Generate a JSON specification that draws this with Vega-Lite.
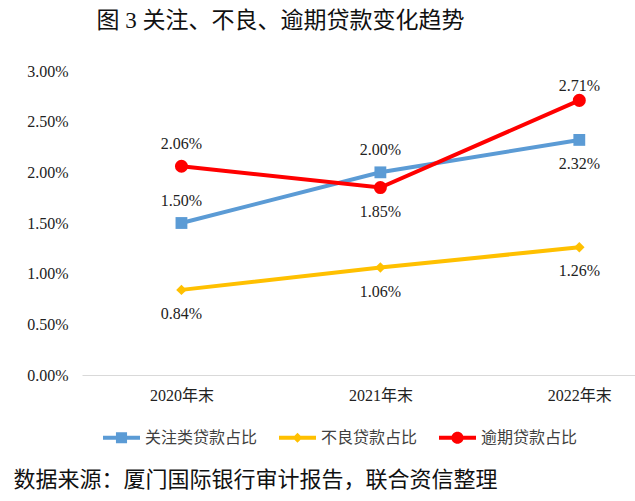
{
  "$schema": "https://vega.github.io/schema/vega-lite/v6.json",
  "autosize": "none",
  "padding": {"left": 82, "top": 71, "right": 0, "bottom": 126},
  "width": 553,
  "height": 304,
  "background": "white",
  "title": {
    "text": "图 3 关注、不良、逾期贷款变化趋势",
    "anchor": "middle",
    "frame": "group",
    "dx": -78,
    "offset": 30,
    "fontSize": 23,
    "font": "Liberation Serif, Noto Sans CJK SC",
    "fontWeight": "normal",
    "color": "#111111"
  },
  "config": {"view": {"stroke": null}},
  "data": {
    "values": [
      {"year": 2020, "s": "关注类贷款占比", "v": 0.0150},
      {"year": 2021, "s": "关注类贷款占比", "v": 0.0200},
      {"year": 2022, "s": "关注类贷款占比", "v": 0.0232},
      {"year": 2020, "s": "不良贷款占比", "v": 0.0084},
      {"year": 2021, "s": "不良贷款占比", "v": 0.0106},
      {"year": 2022, "s": "不良贷款占比", "v": 0.0126},
      {"year": 2020, "s": "逾期贷款占比", "v": 0.0206},
      {"year": 2021, "s": "逾期贷款占比", "v": 0.0185},
      {"year": 2022, "s": "逾期贷款占比", "v": 0.0271}
    ]
  },
  "encoding": {
    "x": {
      "field": "year",
      "type": "quantitative",
      "scale": {"domain": [2019.5, 2022.28], "nice": false, "zero": false},
      "axis": {
        "values": [2020, 2021, 2022],
        "labelExpr": "datum.value + '年末'",
        "grid": false,
        "ticks": false,
        "domainColor": "#d9d9d9",
        "domainWidth": 1,
        "labelPadding": 12,
        "labelFont": "Liberation Serif, Noto Sans CJK SC",
        "labelFontSize": 16,
        "labelColor": "#222222",
        "labelFlush": false,
        "title": "数据来源：厦门国际银行审计报告，联合资信整理",
        "titleFont": "Liberation Serif, Noto Sans CJK SC",
        "titleFontSize": 22,
        "titleFontWeight": "normal",
        "titleColor": "#111111",
        "titleAnchor": "start",
        "titleAlign": "left",
        "titleBaseline": "middle",
        "titleX": -69,
        "titleY": 104
      }
    },
    "y": {
      "field": "v",
      "type": "quantitative",
      "scale": {"domain": [0, 0.03], "nice": false},
      "axis": {
        "values": [0, 0.005, 0.01, 0.015, 0.02, 0.025, 0.03],
        "format": ".2%",
        "grid": false,
        "ticks": false,
        "domain": false,
        "labelPadding": 14,
        "labelFont": "Liberation Serif",
        "labelFontSize": 16,
        "labelColor": "#222222",
        "title": null
      }
    },
    "color": {
      "field": "s",
      "type": "nominal",
      "scale": {
        "domain": ["关注类贷款占比", "不良贷款占比", "逾期贷款占比"],
        "range": ["#5B9BD5", "#FFC000", "#FF0000"]
      },
      "legend": {
        "orient": "none",
        "legendX": 21,
        "legendY": 348,
        "direction": "horizontal",
        "title": null,
        "padding": 0,
        "symbolSize": 1369,
        "labelOffset": 5,
        "columnPadding": 21,
        "labelFont": "Liberation Serif, Noto Sans CJK SC",
        "labelFontSize": 16,
        "labelColor": "#404040",
        "encode": {
          "symbols": {
            "update": {
              "shape": {"signal": "datum.value === '关注类贷款占比' ? 'M-1,-0.108H1V0.108H-1Z M-0.3,-0.3H0.3V0.3H-0.3Z' : datum.value === '不良贷款占比' ? 'M-1,-0.108H1V0.108H-1Z M0,-0.27L0.27,0L0,0.27L-0.27,0Z' : 'M-1,-0.108H1V0.108H-1Z M0.33,0A0.33,0.33 0 1,1 -0.33,0A0.33,0.33 0 1,1 0.33,0Z'"},
              "size": {"value": 1369},
              "fill": {"signal": "scale('color', datum.value)"},
              "fillOpacity": {"value": 1},
              "strokeWidth": {"value": 0},
              "opacity": {"value": 1}
            }
          }
        }
      }
    }
  },
  "layer": [
    {"mark": {"type": "line", "strokeWidth": 4}},
    {
      "transform": [{"filter": "datum.s == '关注类贷款占比'"}],
      "mark": {"type": "point", "filled": true, "opacity": 1, "shape": "square", "size": 140}
    },
    {
      "transform": [{"filter": "datum.s == '不良贷款占比'"}],
      "mark": {"type": "point", "filled": true, "opacity": 1, "shape": "diamond", "size": 110}
    },
    {
      "transform": [{"filter": "datum.s == '逾期贷款占比'"}],
      "mark": {"type": "point", "filled": true, "opacity": 1, "shape": "circle", "size": 170}
    },
    {
      "transform": [{"filter": "(datum.s == '逾期贷款占比' && datum.year == 2020) || (datum.s == '关注类贷款占比' && datum.year != 2022)"}],
      "mark": {"type": "text", "dy": -22, "font": "Liberation Serif", "fontSize": 16, "baseline": "middle"},
      "encoding": {"text": {"field": "v", "type": "quantitative", "format": ".2%"}, "color": {"value": "#222222"}}
    },
    {
      "transform": [{"filter": "datum.s == '逾期贷款占比' && datum.year == 2022"}],
      "mark": {"type": "text", "dy": -14, "font": "Liberation Serif", "fontSize": 16, "baseline": "middle"},
      "encoding": {"text": {"field": "v", "type": "quantitative", "format": ".2%"}, "color": {"value": "#222222"}}
    },
    {
      "transform": [{"filter": "!((datum.s == '逾期贷款占比' && datum.year != 2021) || (datum.s == '关注类贷款占比' && datum.year != 2022))"}],
      "mark": {"type": "text", "dy": 24, "font": "Liberation Serif", "fontSize": 16, "baseline": "middle"},
      "encoding": {"text": {"field": "v", "type": "quantitative", "format": ".2%"}, "color": {"value": "#222222"}}
    }
  ]
}
